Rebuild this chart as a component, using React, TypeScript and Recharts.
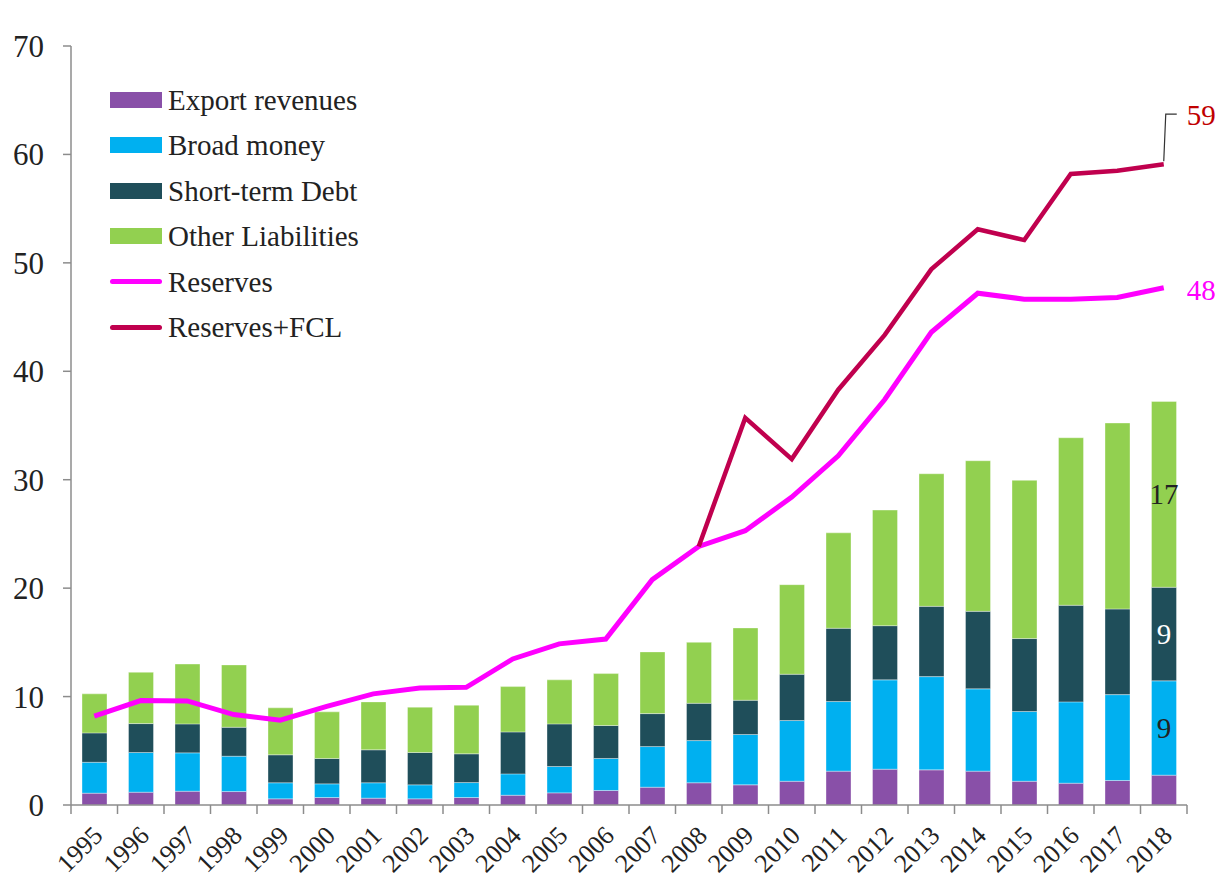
import React from "react";
import {
  ComposedChart,
  Bar,
  Line,
  XAxis,
  YAxis,
  LabelList,
} from "recharts";

const years = [
  "1995", "1996", "1997", "1998", "1999", "2000", "2001", "2002",
  "2003", "2004", "2005", "2006", "2007", "2008", "2009", "2010",
  "2011", "2012", "2013", "2014", "2015", "2016", "2017", "2018",
];

// stacked segments (not cumulative)
const exportRevenues = [1.09, 1.18, 1.27, 1.24, 0.57, 0.69, 0.63, 0.57, 0.69, 0.9, 1.12, 1.34, 1.64, 2.05, 1.86, 2.19, 3.12, 3.3, 3.24, 3.12, 2.19, 2.01, 2.26, 2.75];
const broadMoney = [2.85, 3.66, 3.54, 3.26, 1.48, 1.26, 1.42, 1.29, 1.38, 1.97, 2.43, 2.95, 3.75, 3.89, 4.64, 5.6, 6.42, 8.24, 8.6, 7.59, 6.43, 7.5, 7.92, 8.7];
const shortTermDebt = [2.71, 2.67, 2.67, 2.67, 2.58, 2.34, 3.04, 2.98, 2.65, 3.87, 3.93, 3.04, 3.04, 3.44, 3.16, 4.27, 6.76, 5.0, 6.48, 7.15, 6.73, 8.91, 7.9, 8.63];
const otherLiabilities = [3.6, 4.73, 5.52, 5.75, 4.33, 4.3, 4.42, 4.18, 4.48, 4.18, 4.06, 4.79, 5.69, 5.62, 6.67, 8.26, 8.8, 10.66, 12.23, 13.89, 14.59, 15.45, 17.15, 17.14];

const reserves = [8.2, 9.63, 9.6, 8.34, 7.82, 9.1, 10.25, 10.8, 10.85, 13.47, 14.86, 15.3, 20.78, 23.85, 25.3, 28.4, 32.2, 37.4, 43.6, 47.2, 46.65, 46.65, 46.8, 47.7];
const reservesFcl = [null, null, null, null, null, null, null, null, null, null, null, null, null, 23.85, 35.7, 31.9, 38.3, 43.36, 49.4, 53.1, 52.1, 58.2, 58.5, 59.1];

const yTicks = [0, 10, 20, 30, 40, 50, 60, 70];

const FONT = '"Liberation Serif", "Times New Roman", serif';
const AXIS = "#8c8c8c";

const series = [
  { key: "exportRevenues", name: "Export revenues", color: "#8950A8", type: "bar" },
  { key: "broadMoney", name: "Broad money", color: "#00B0F0", type: "bar" },
  { key: "shortTermDebt", name: "Short-term Debt", color: "#1F4E5A", type: "bar" },
  { key: "otherLiabilities", name: "Other Liabilities", color: "#92D050", type: "bar" },
  { key: "reserves", name: "Reserves", color: "#FF00FF", type: "line" },
  { key: "reservesFcl", name: "Reserves+FCL", color: "#C0004E", type: "line" },
];

const data = years.map((year, i) => ({
  year,
  exportRevenues: exportRevenues[i],
  broadMoney: broadMoney[i],
  shortTermDebt: shortTermDebt[i],
  otherLiabilities: otherLiabilities[i],
  reserves: reserves[i],
  reservesFcl: reservesFcl[i],
}));

const last = years.length - 1;

function XTick(props: any) {
  const { x, y, payload, index } = props;
  const half = payload?.offset ?? 23.25;
  const tx = x + 4;
  const ty = y + 18;
  return (
    <g>
      <line x1={x - half} y1={y - 8} x2={x - half} y2={y + 1} stroke={AXIS} strokeWidth={1.5} />
      {index === last && (
        <line x1={x + half} y1={y - 8} x2={x + half} y2={y + 1} stroke={AXIS} strokeWidth={1.5} />
      )}
      <text
        x={tx}
        y={ty}
        transform={`rotate(-45, ${tx}, ${ty})`}
        textAnchor="end"
        dominantBaseline="central"
        fontFamily={FONT}
        fontSize={26}
        fill="#222"
      >
        {payload.value}
      </text>
    </g>
  );
}

function segLabel(values: number[], color: string) {
  return (props: any) => {
    if (props.index !== last) return null;
    const v = props.viewBox ?? props;
    const cx = v.x + v.width / 2;
    const cy = v.y + v.height / 2;
    return (
      <text x={cx} y={cy} textAnchor="middle" dominantBaseline="central" fontFamily={FONT} fontSize={29} fill={color}>
        {Math.round(values[props.index])}
      </text>
    );
  };
}

function endLabel(values: (number | null)[], color: string, leader: boolean) {
  return (props: any) => {
    if (props.index !== last) return null;
    const { x, y } = props;
    if (leader) {
      return (
        <g>
          <path d={`M${x} ${y - 3} L${x + 2} ${y - 50} L${x + 13} ${y - 50}`} stroke="#333" strokeWidth={1.2} fill="none" />
          <text x={x + 23} y={y - 49} dominantBaseline="central" fontFamily={FONT} fontSize={29} fill={color}>
            {Math.round(values[props.index] as number)}
          </text>
        </g>
      );
    }
    return (
      <text x={x + 23} y={y + 2} dominantBaseline="central" fontFamily={FONT} fontSize={29} fill={color}>
        {Math.round(values[props.index] as number)}
      </text>
    );
  };
}

function LegendBox() {
  return (
    <div style={{ position: "absolute", left: 110, top: 77, fontFamily: FONT, fontSize: 29, color: "#222" }}>
      {series.map((s) => (
        <div key={s.key} style={{ display: "flex", alignItems: "center", height: 45.5 }}>
          {s.type === "bar" ? (
            <div style={{ width: 52, height: 16, background: s.color, marginRight: 6 }} />
          ) : (
            <div style={{ width: 52, height: 5, borderRadius: 3, background: s.color, marginRight: 6 }} />
          )}
          <span style={{ lineHeight: "30px" }}>{s.name}</span>
        </div>
      ))}
    </div>
  );
}

export default function App() {
  return (
    <div style={{ position: "absolute", left: 0, top: 0, width: 1216, height: 881, background: "#fff" }}>
      <ComposedChart
        width={1216}
        height={881}
        data={data}
        margin={{ top: 46, right: 29, bottom: 15, left: 0 }}
        style={{ overflow: "visible" }}
      >
        <XAxis
          dataKey="year"
          interval={0}
          tick={<XTick />}
          tickLine={false}
          axisLine={{ stroke: AXIS, strokeWidth: 1.5 }}
          height={61}
        />
        <YAxis
          domain={[0, 70]}
          ticks={yTicks}
          width={71}
          tickSize={8}
          tickMargin={19}
          tickLine={{ stroke: AXIS, strokeWidth: 1.5 }}
          axisLine={{ stroke: AXIS, strokeWidth: 1.5 }}
          tick={{ fontFamily: FONT, fontSize: 31, fill: "#222" }}
        />
        <Bar dataKey="exportRevenues" name="Export revenues" stackId="a" fill="#8950A8" barSize={25} stroke="#ffffff" strokeOpacity={0.45} strokeWidth={0.8} isAnimationActive={false} />
        <Bar dataKey="broadMoney" name="Broad money" stackId="a" fill="#00B0F0" barSize={25} stroke="#ffffff" strokeOpacity={0.45} strokeWidth={0.8} isAnimationActive={false}>
          <LabelList content={segLabel(broadMoney, "#222")} />
        </Bar>
        <Bar dataKey="shortTermDebt" name="Short-term Debt" stackId="a" fill="#1F4E5A" barSize={25} stroke="#ffffff" strokeOpacity={0.45} strokeWidth={0.8} isAnimationActive={false}>
          <LabelList content={segLabel(shortTermDebt, "#ffffff")} />
        </Bar>
        <Bar dataKey="otherLiabilities" name="Other Liabilities" stackId="a" fill="#92D050" barSize={25} stroke="#ffffff" strokeOpacity={0.45} strokeWidth={0.8} isAnimationActive={false}>
          <LabelList content={segLabel(otherLiabilities, "#222")} />
        </Bar>
        <Line dataKey="reserves" name="Reserves" stroke="#FF00FF" strokeWidth={5} dot={false} isAnimationActive={false}>
          <LabelList content={endLabel(reserves, "#FF00FF", false)} />
        </Line>
        <Line dataKey="reservesFcl" name="Reserves+FCL" stroke="#C0004E" strokeWidth={4.5} dot={false} connectNulls={false} isAnimationActive={false}>
          <LabelList content={endLabel(reservesFcl, "#C00000", true)} />
        </Line>
      </ComposedChart>
      <LegendBox />
    </div>
  );
}
